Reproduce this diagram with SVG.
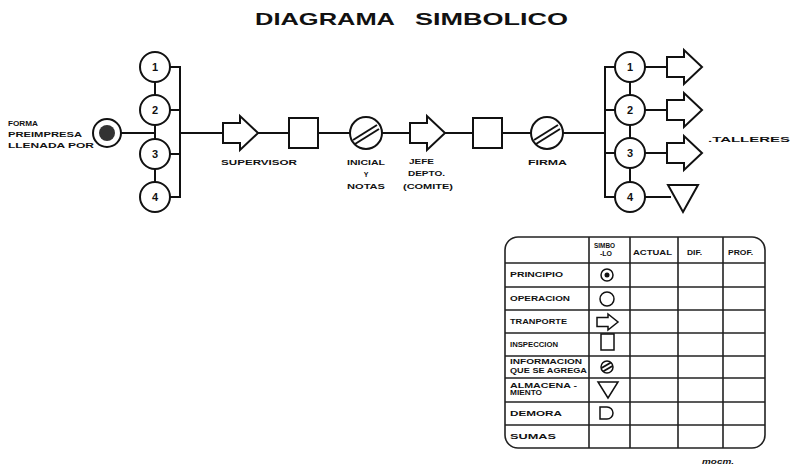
<svg xmlns="http://www.w3.org/2000/svg" width="791" height="468" viewBox="0 0 791 468">
<defs>
<style>
.ln{stroke:#111;stroke-width:2;fill:none}
.sh{stroke:#111;stroke-width:2;fill:#fff}
.tn{stroke:#111;stroke-width:1.5;fill:#fff}
.gr{stroke:#222;stroke-width:1.6;fill:none}
.num{font-family:"Liberation Sans",Arial,sans-serif;font-weight:bold;font-size:11px;fill:#111;text-anchor:middle}
.lb{font-family:"Liberation Sans",Arial,sans-serif;font-weight:bold;font-size:7px;fill:#111}
.tl{font-family:"Liberation Sans",Arial,sans-serif;font-weight:900;font-size:17px;fill:#111}
</style>
<path id="arr" d="M0,-10 H17 V-17 L35,0 L17,17 V10 H0 Z"/>
<path id="sarr" d="M0,-4.5 H11 V-8 L21,0 L11,8 V4.5 H0 Z"/>
</defs>
<rect width="791" height="468" fill="#fff"/>

<g id="title">
<text class="tl" x="255" y="25" textLength="140" lengthAdjust="spacingAndGlyphs">DIAGRAMA</text>
<text class="tl" x="415" y="25" textLength="153" lengthAdjust="spacingAndGlyphs">SIMBOLICO</text>
</g>

<g id="connectors">
<line class="ln" x1="121" y1="133" x2="155" y2="133"/>
<line class="ln" x1="155" y1="82" x2="155" y2="95"/>
<line class="ln" x1="155" y1="125" x2="155" y2="139"/>
<line class="ln" x1="155" y1="169" x2="155" y2="182"/>
<line class="ln" x1="170" y1="67" x2="180" y2="67"/>
<line class="ln" x1="170" y1="110" x2="180" y2="110"/>
<line class="ln" x1="170" y1="154" x2="180" y2="154"/>
<line class="ln" x1="170" y1="197" x2="180" y2="197"/>
<line class="ln" x1="180" y1="66" x2="180" y2="198"/>
<line class="ln" x1="180" y1="133" x2="223" y2="133"/>
<line class="ln" x1="258" y1="133" x2="289" y2="133"/>
<line class="ln" x1="318" y1="133" x2="350" y2="133"/>
<line class="ln" x1="382" y1="133" x2="410" y2="133"/>
<line class="ln" x1="444" y1="133" x2="473" y2="133"/>
<line class="ln" x1="502" y1="133" x2="531" y2="133"/>
<line class="ln" x1="563" y1="133" x2="605" y2="133"/>
<line class="ln" x1="605" y1="66" x2="605" y2="198"/>
<line class="ln" x1="605" y1="67" x2="615" y2="67"/>
<line class="ln" x1="605" y1="110" x2="615" y2="110"/>
<line class="ln" x1="605" y1="153" x2="615" y2="153"/>
<line class="ln" x1="605" y1="197" x2="615" y2="197"/>
<line class="ln" x1="630" y1="82" x2="630" y2="95"/>
<line class="ln" x1="630" y1="125" x2="630" y2="138"/>
<line class="ln" x1="630" y1="168" x2="630" y2="182"/>
<line class="ln" x1="645" y1="67" x2="667" y2="67"/>
<line class="ln" x1="645" y1="110" x2="667" y2="110"/>
<line class="ln" x1="645" y1="153" x2="667" y2="153"/>
<line class="ln" x1="645" y1="197" x2="671" y2="197"/>
</g>

<g id="start">
<circle class="sh" cx="107" cy="133" r="14"/>
<circle cx="107" cy="133" r="8" fill="#333"/>
<text class="lb" x="8" y="126" textLength="30" lengthAdjust="spacingAndGlyphs">FORMA</text>
<text class="lb" x="8" y="137" textLength="74" lengthAdjust="spacingAndGlyphs">PREIMPRESA</text>
<text class="lb" x="8" y="148" textLength="86" lengthAdjust="spacingAndGlyphs">LLENADA POR</text>
</g>

<g id="left-1"><circle class="sh" cx="155" cy="67" r="15"/><text class="num" x="155" y="71">1</text></g>
<g id="left-2"><circle class="sh" cx="155" cy="110" r="15"/><text class="num" x="155" y="114">2</text></g>
<g id="left-3"><circle class="sh" cx="155" cy="154" r="15"/><text class="num" x="155" y="158">3</text></g>
<g id="left-4"><circle class="sh" cx="155" cy="197" r="15"/><text class="num" x="155" y="201">4</text></g>

<g id="transport-supervisor">
<use href="#arr" class="sh" x="223" y="133"/>
<text class="lb" x="221" y="165" textLength="76" lengthAdjust="spacingAndGlyphs">SUPERVISOR</text>
</g>
<g id="inspection-1"><rect class="sh" x="289" y="118" width="29" height="30"/></g>
<g id="info-inicial">
<circle class="sh" cx="366" cy="133" r="16"/>
<line class="ln" x1="353" y1="140" x2="377" y2="125" stroke-width="1.8"/>
<line class="ln" x1="355" y1="144" x2="379" y2="129" stroke-width="1.8"/>
<text class="lb" x="347" y="165" textLength="38" lengthAdjust="spacingAndGlyphs">INICIAL</text>
<text class="lb" x="366" y="177" text-anchor="middle">Y</text>
<text class="lb" x="347" y="189" textLength="38" lengthAdjust="spacingAndGlyphs">NOTAS</text>
</g>
<g id="transport-jefe">
<use href="#arr" class="sh" x="410" y="133"/>
<text class="lb" x="409" y="164" textLength="25" lengthAdjust="spacingAndGlyphs">JEFE</text>
<text class="lb" x="408" y="176" textLength="37" lengthAdjust="spacingAndGlyphs">DEPTO.</text>
<text class="lb" x="403" y="189" textLength="50" lengthAdjust="spacingAndGlyphs">(COMITE)</text>
</g>
<g id="inspection-2"><rect class="sh" x="473" y="118" width="29" height="30"/></g>
<g id="info-firma">
<circle class="sh" cx="547" cy="133" r="16"/>
<line class="ln" x1="534" y1="140" x2="558" y2="125" stroke-width="1.8"/>
<line class="ln" x1="536" y1="144" x2="560" y2="129" stroke-width="1.8"/>
<text class="lb" x="528" y="165" textLength="39" lengthAdjust="spacingAndGlyphs">FIRMA</text>
</g>

<g id="right-1"><circle class="sh" cx="630" cy="67" r="15"/><text class="num" x="630" y="71">1</text><use href="#arr" class="sh" x="667" y="67"/></g>
<g id="right-2"><circle class="sh" cx="630" cy="110" r="15"/><text class="num" x="630" y="114">2</text><use href="#arr" class="sh" x="667" y="110"/></g>
<g id="right-3"><circle class="sh" cx="630" cy="153" r="15"/><text class="num" x="630" y="157">3</text><use href="#arr" class="sh" x="667" y="153"/></g>
<g id="right-4"><circle class="sh" cx="630" cy="197" r="15"/><text class="num" x="630" y="201">4</text><path class="sh" d="M668,185 H698 L683,212 Z"/></g>
<g id="talleres"><text class="lb" x="708" y="142" textLength="82" lengthAdjust="spacingAndGlyphs">.TALLERES</text></g>

<g id="table">
<rect class="gr" x="505" y="237" width="260" height="211" rx="13"/>
<g class="gr">
<line x1="589" y1="237" x2="589" y2="448"/>
<line x1="630" y1="237" x2="630" y2="448"/>
<line x1="678" y1="237" x2="678" y2="448"/>
<line x1="723" y1="237" x2="723" y2="448"/>
<line x1="505" y1="263" x2="765" y2="263"/>
<line x1="505" y1="287" x2="765" y2="287"/>
<line x1="505" y1="310" x2="765" y2="310"/>
<line x1="505" y1="333" x2="765" y2="333"/>
<line x1="505" y1="356" x2="765" y2="356"/>
<line x1="505" y1="378" x2="765" y2="378"/>
<line x1="505" y1="402" x2="765" y2="402"/>
<line x1="505" y1="425" x2="765" y2="425"/>
</g>
<text class="lb" x="594" y="248" font-size="6" textLength="21" lengthAdjust="spacingAndGlyphs">SIMBO</text>
<text class="lb" x="600" y="256" font-size="6" textLength="12" lengthAdjust="spacingAndGlyphs">-LO</text>
<text class="lb" x="633" y="255" font-size="6" textLength="39" lengthAdjust="spacingAndGlyphs">ACTUAL</text>
<text class="lb" x="687" y="255" font-size="6" textLength="15" lengthAdjust="spacingAndGlyphs">DIF.</text>
<text class="lb" x="728" y="255" font-size="6" textLength="25" lengthAdjust="spacingAndGlyphs">PROF.</text>
<text class="lb" x="510" y="277" font-size="6" textLength="53" lengthAdjust="spacingAndGlyphs">PRINCIPIO</text>
<text class="lb" x="510" y="301" font-size="6" textLength="60" lengthAdjust="spacingAndGlyphs">OPERACION</text>
<text class="lb" x="510" y="324" font-size="6" textLength="57" lengthAdjust="spacingAndGlyphs">TRANPORTE</text>
<text class="lb" x="510" y="347" font-size="6" textLength="48" lengthAdjust="spacingAndGlyphs">INSPECCION</text>
<text class="lb" x="510" y="364" font-size="6" textLength="72" lengthAdjust="spacingAndGlyphs">INFORMACION</text>
<text class="lb" x="510" y="373" font-size="6" textLength="77" lengthAdjust="spacingAndGlyphs">QUE SE AGREGA</text>
<text class="lb" x="510" y="388" font-size="6" textLength="67" lengthAdjust="spacingAndGlyphs">ALMACENA -</text>
<text class="lb" x="510" y="395" font-size="6" textLength="32" lengthAdjust="spacingAndGlyphs">MIENTO</text>
<text class="lb" x="510" y="416" font-size="6" textLength="52" lengthAdjust="spacingAndGlyphs">DEMORA</text>
<text class="lb" x="510" y="439" font-size="6" textLength="46" lengthAdjust="spacingAndGlyphs">SUMAS</text>
<circle class="tn" cx="607" cy="275" r="6"/>
<circle cx="607" cy="275" r="2.5" fill="#111"/>
<circle class="tn" cx="607" cy="299" r="7"/>
<use href="#sarr" class="tn" x="597" y="322"/>
<rect class="tn" x="601" y="334" width="13" height="16"/>
<circle class="tn" cx="607" cy="367" r="6"/>
<line class="ln" x1="601.5" y1="368" x2="611" y2="362.5" stroke-width="1.3"/>
<line class="ln" x1="603" y1="371.5" x2="612.5" y2="366" stroke-width="1.3"/>
<path class="tn" d="M598,382 H618 L608,398 Z"/>
<path class="tn" d="M600,407 H607 A6,6 0 0 1 607,419 H600 Z"/>
</g>

<g id="signature"><text class="lb" x="702" y="464" font-size="7" font-style="italic" textLength="32" lengthAdjust="spacingAndGlyphs">mocm.</text></g>
</svg>
